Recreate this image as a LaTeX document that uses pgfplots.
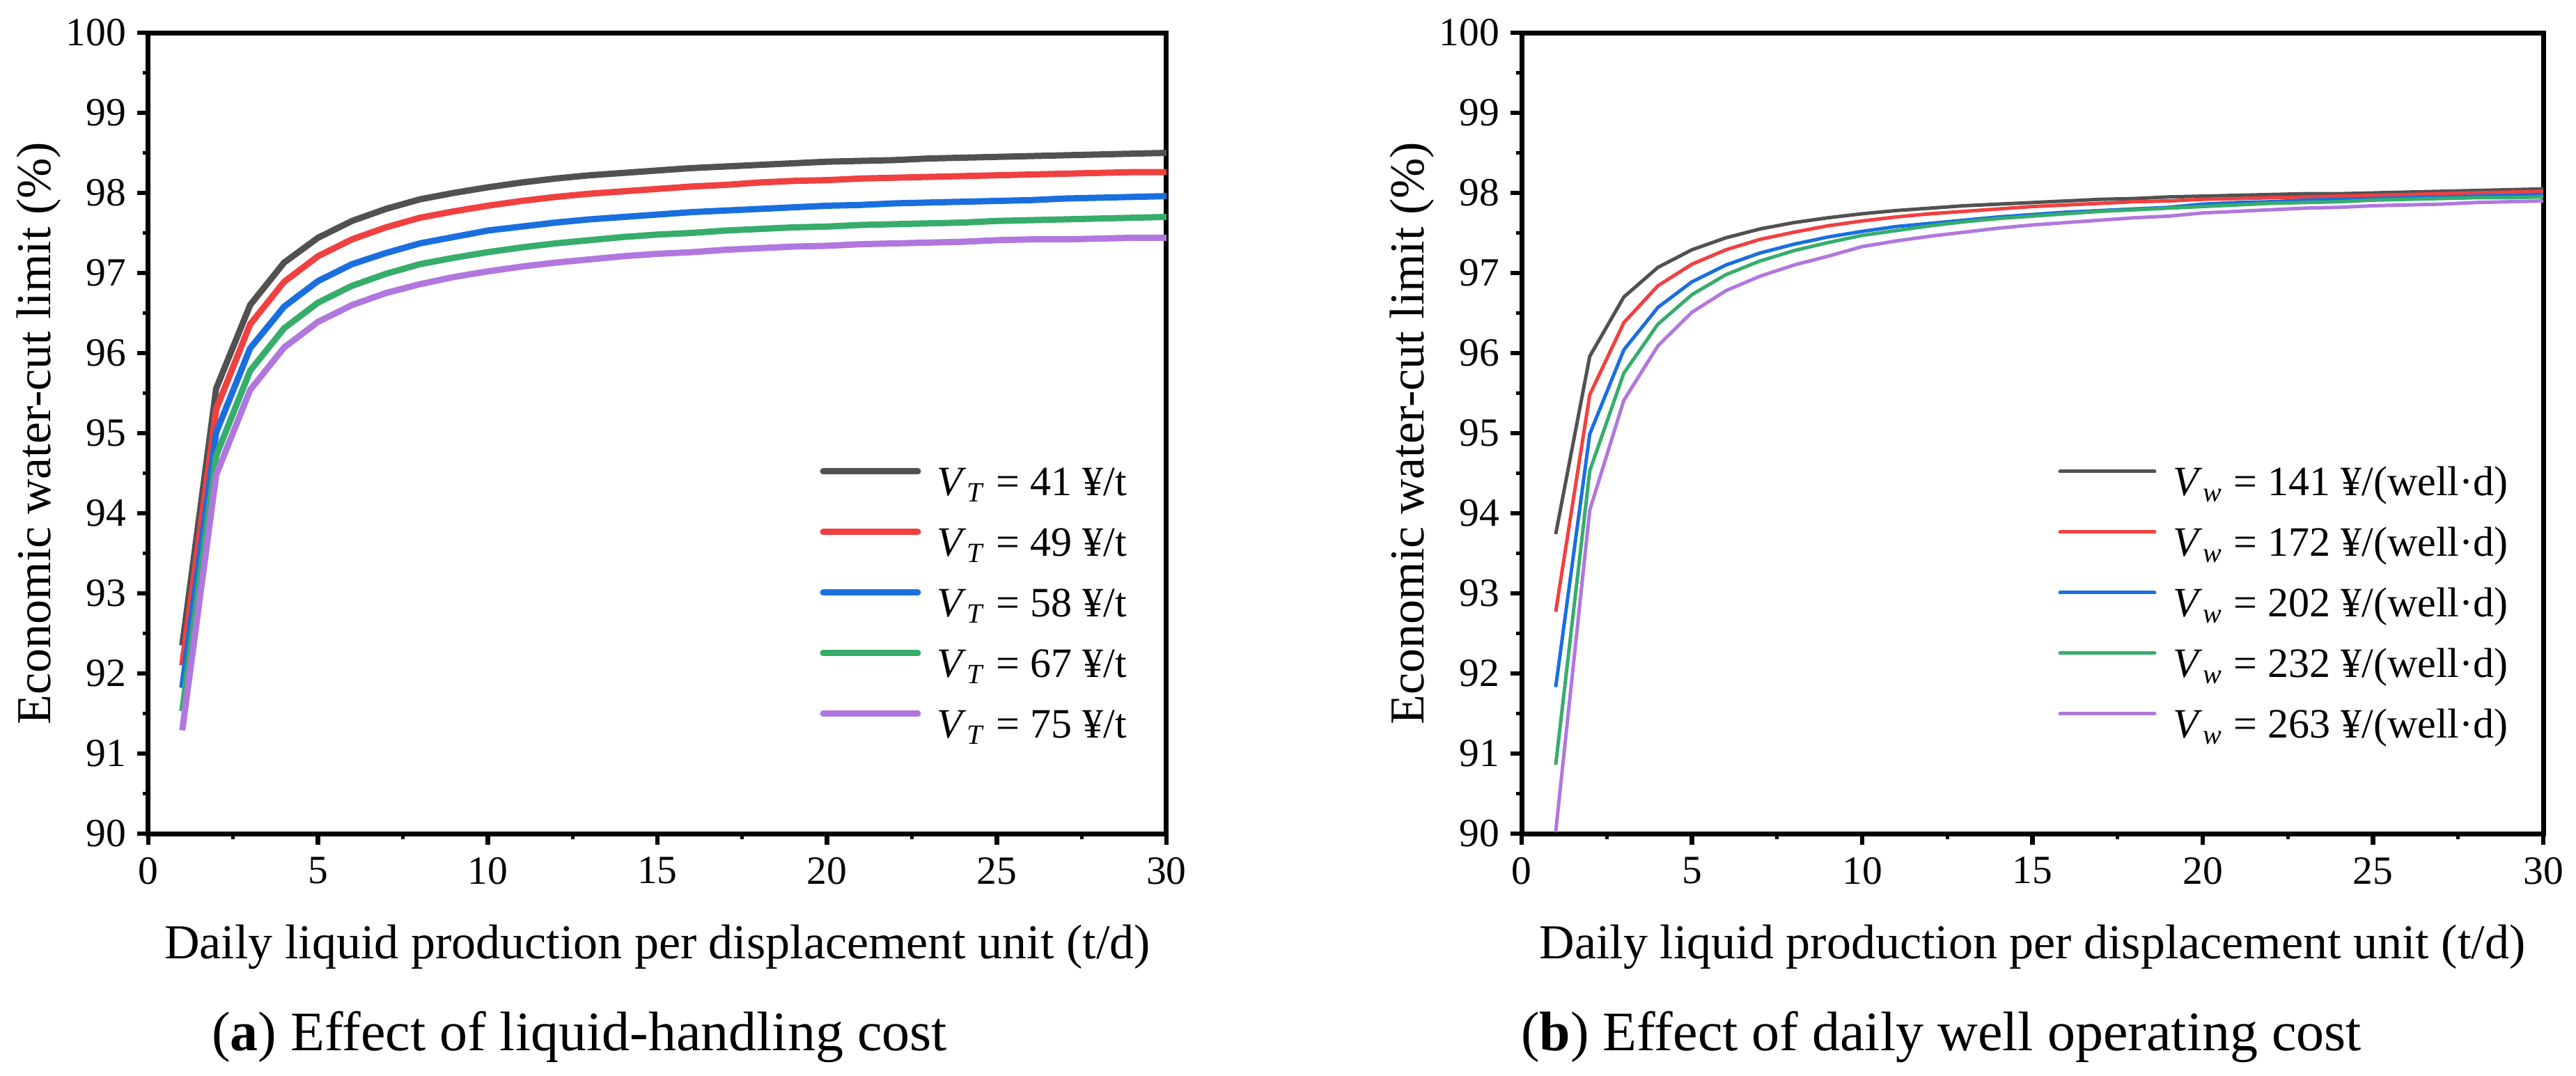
\documentclass[border=0pt]{standalone}
\usepackage{pgfplots}
\usepackage{pgfplotstable}
\pgfplotsset{compat=1.18}
\usepackage{fontspec}
\setmainfont{Liberation Serif}
\definecolor{c1}{HTML}{515151}
\definecolor{c2}{HTML}{F14040}
\definecolor{c3}{HTML}{1A6FDF}
\definecolor{c4}{HTML}{37AD6B}
\definecolor{c5}{HTML}{B177DE}

\pgfplotstableread{
x a b c d e
1 92.35 92.10 91.82 91.53 91.29
2 95.56 95.30 95.01 94.72 94.48
3 96.60 96.36 96.06 95.78 95.54
4 97.13 96.89 96.58 96.31 96.07
5 97.44 97.21 96.90 96.63 96.39
6 97.65 97.42 97.11 96.84 96.60
7 97.80 97.57 97.25 96.99 96.75
8 97.92 97.69 97.37 97.11 96.86
9 98.00 97.77 97.45 97.19 96.95
10 98.07 97.84 97.53 97.26 97.02
11 98.13 97.90 97.58 97.32 97.08
12 98.18 97.95 97.63 97.37 97.13
13 98.22 97.99 97.67 97.41 97.17
14 98.25 98.02 97.70 97.45 97.21
15 98.28 98.05 97.73 97.48 97.24
16 98.31 98.08 97.76 97.50 97.26
17 98.33 98.10 97.78 97.53 97.29
18 98.35 98.13 97.80 97.55 97.31
19 98.37 98.15 97.82 97.57 97.33
20 98.39 98.16 97.84 97.58 97.34
21 98.40 98.18 97.85 97.60 97.36
22 98.41 98.19 97.87 97.61 97.37
23 98.43 98.20 97.88 97.62 97.38
24 98.44 98.21 97.89 97.63 97.39
25 98.45 98.22 97.90 97.65 97.41
26 98.46 98.23 97.91 97.66 97.42
27 98.47 98.24 97.93 97.67 97.42
28 98.48 98.25 97.94 97.68 97.43
29 98.49 98.26 97.95 97.69 97.44
30 98.50 98.26 97.96 97.70 97.44
}\tableA

\pgfplotstableread{
x a b c d e
1 93.74 92.77 91.83 90.86 90.02
2 95.96 95.48 94.99 94.53 94.04
3 96.70 96.38 96.04 95.75 95.41
4 97.07 96.84 96.57 96.36 96.09
5 97.29 97.11 96.89 96.73 96.51
6 97.44 97.29 97.10 96.98 96.78
7 97.55 97.42 97.25 97.15 96.96
8 97.63 97.51 97.36 97.28 97.10
9 97.69 97.59 97.45 97.38 97.21
10 97.74 97.65 97.52 97.47 97.33
11 97.78 97.70 97.58 97.53 97.40
12 97.81 97.74 97.62 97.59 97.46
13 97.84 97.77 97.66 97.64 97.51
14 97.86 97.80 97.70 97.68 97.56
15 97.88 97.83 97.73 97.71 97.60
16 97.90 97.85 97.76 97.74 97.63
17 97.92 97.87 97.78 97.77 97.66
18 97.93 97.89 97.80 97.79 97.69
19 97.95 97.90 97.82 97.81 97.71
20 97.96 97.92 97.86 97.83 97.75
21 97.97 97.93 97.88 97.85 97.77
22 97.98 97.94 97.89 97.87 97.79
23 97.99 97.95 97.91 97.88 97.81
24 97.99 97.96 97.92 97.89 97.82
25 98.00 97.97 97.93 97.91 97.84
26 98.01 97.98 97.94 97.92 97.85
27 98.02 97.99 97.95 97.93 97.86
28 98.03 98.00 97.96 97.94 97.88
29 98.04 98.01 97.97 97.94 97.89
30 98.05 98.02 97.98 97.95 97.90
}\tableB

\pgfplotsset{
  myaxis/.style={
    scale only axis, height=230pt,
    xmin=0, xmax=30, ymin=90, ymax=100,
    xtick={0,5,...,30}, ytick={90,91,...,100},
    minor x tick num=1, minor y tick num=1,
    tick align=outside, tick pos=left,
    major tick length=3.2pt, minor tick length=1.6pt,
    major tick style={line width=1.3pt, black},
    minor tick style={line width=1.0pt, black},
    axis line style={line width=1.4pt},
    tick label style={font=\fontsize{11.5}{13}\selectfont, inner sep=0pt},
    xticklabel style={yshift=-3.4pt},
    yticklabel style={xshift=-3pt},
    /pgf/number format/assume math mode=true,
    label style={font=\fontsize{14}{16}\selectfont},
    xlabel={Daily liquid production per displacement unit (t/d)},
    ylabel={Economic water-cut limit (\%)},
    xlabel style={at={(axis description cs:0.5,-0.1565)}, anchor=base},
    legend cell align=left,
    legend style={draw=none, fill=none, inner sep=0pt, outer sep=0pt,
      row sep=5.4pt, font=\fontsize{12}{14}\selectfont,
      nodes={inner sep=0pt, text height=9pt, text depth=3pt}},
  }
}

\begin{document}
\begin{tikzpicture}
\path[use as bounding box] (0,0) rectangle (739.8pt,308.8pt);

\begin{axis}[myaxis, width=292.4pt, at={(42.6pt,69.4pt)}, anchor=south west,
  ylabel style={at={(axis description cs:-0.0964,0.5)}, anchor=base},
  legend style={at={(axis description cs:0.6597,0.4609)}, anchor=north west, column sep=4.7pt},
  legend image code/.code={\draw[#1, line cap=round] (0pt,4pt) -- (27.2pt,4pt);},
  every axis plot/.append style={line width=1.8pt, line join=round}]
\addplot[c1, no marks] table[x=x, y=a] {\tableA};
\addlegendentry{\textit{V}\textsubscript{\textit{T}} = 41 ¥/t}
\addplot[c2, no marks] table[x=x, y=b] {\tableA};
\addlegendentry{\textit{V}\textsubscript{\textit{T}} = 49 ¥/t}
\addplot[c3, no marks] table[x=x, y=c] {\tableA};
\addlegendentry{\textit{V}\textsubscript{\textit{T}} = 58 ¥/t}
\addplot[c4, no marks] table[x=x, y=d] {\tableA};
\addlegendentry{\textit{V}\textsubscript{\textit{T}} = 67 ¥/t}
\addplot[c5, no marks] table[x=x, y=e] {\tableA};
\addlegendentry{\textit{V}\textsubscript{\textit{T}} = 75 ¥/t}
\end{axis}

\begin{axis}[myaxis, width=293.4pt, at={(437pt,69.4pt)}, anchor=south west,
  ylabel style={at={(axis description cs:-0.0961,0.5)}, anchor=base},
  legend style={at={(axis description cs:0.5252,0.4609)}, anchor=north west, column sep=4.9pt},
  legend image code/.code={\draw[#1, line cap=round] (0pt,4pt) -- (27.2pt,4pt);},
  every axis plot/.append style={line width=1.0pt, line join=round}]
\addplot[c1, no marks] table[x=x, y=a] {\tableB};
\addlegendentry{\textit{V}\textsubscript{\textit{w}} = 141 ¥/(well·d)}
\addplot[c2, no marks] table[x=x, y=b] {\tableB};
\addlegendentry{\textit{V}\textsubscript{\textit{w}} = 172 ¥/(well·d)}
\addplot[c3, no marks] table[x=x, y=c] {\tableB};
\addlegendentry{\textit{V}\textsubscript{\textit{w}} = 202 ¥/(well·d)}
\addplot[c4, no marks] table[x=x, y=d] {\tableB};
\addlegendentry{\textit{V}\textsubscript{\textit{w}} = 232 ¥/(well·d)}
\addplot[c5, no marks] table[x=x, y=e] {\tableB};
\addlegendentry{\textit{V}\textsubscript{\textit{w}} = 263 ¥/(well·d)}
\end{axis}

\node[anchor=base west, inner sep=0pt, font=\fontsize{16}{18}\selectfont] at (60.6pt,7.2pt) {(\textbf{a}) Effect of liquid-handling cost};
\node[anchor=base west, inner sep=0pt, font=\fontsize{16}{18}\selectfont] at (436.6pt,7.2pt) {(\textbf{b}) Effect of daily well operating cost};
\end{tikzpicture}
\end{document}
